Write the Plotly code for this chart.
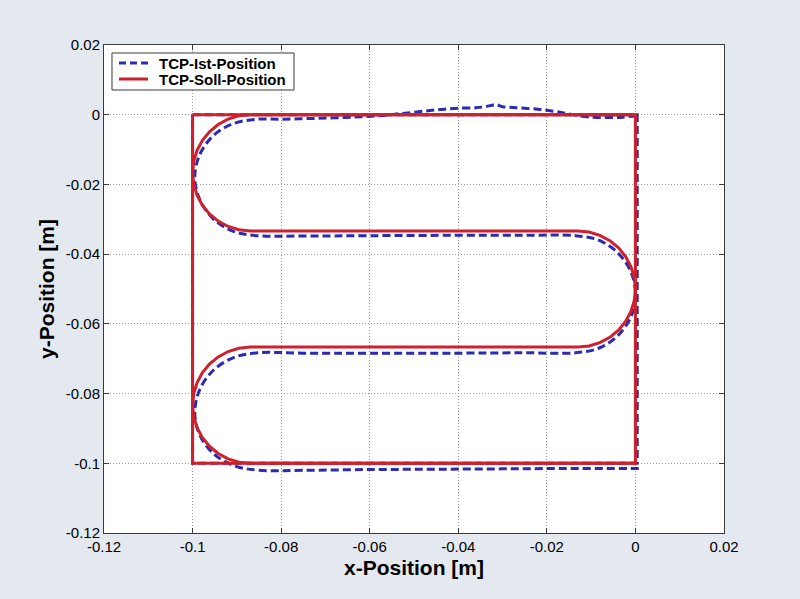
import plotly.graph_objects as go

# ---------------- data ----------------
# TCP-Soll-Position (commanded path): bounding square + serpentine path
soll_square_x = [-0.1, 0.0, 0.0, -0.1, -0.1]
soll_square_y = [0.0, 0.0, -0.1, -0.1, 0.0]

soll_top_x = [0.0]
soll_top_y = [0.0]

soll_turn1_x = [-0.087, -0.089536, -0.091975, -0.094222, -0.096192, -0.097809, -0.099010,
                -0.099750, -0.1, -0.099750, -0.099010, -0.097809, -0.096192, -0.094222,
                -0.091975, -0.089536, -0.087]
soll_turn1_y = [0.0, -0.000320, -0.001269, -0.002809, -0.004882, -0.007407, -0.010289,
                -0.013415, -0.016667, -0.019919, -0.023045, -0.025927, -0.028452, -0.030525,
                -0.032065, -0.033014, -0.033333]

soll_turn2_x = [-0.013, -0.010464, -0.008025, -0.005778, -0.003808, -0.002191, -0.000990,
                -0.000250, 0.0, -0.000250, -0.000990, -0.002191, -0.003808, -0.005778,
                -0.008025, -0.010464, -0.013]
soll_turn2_y = [-0.033333, -0.033653, -0.034602, -0.036142, -0.038215, -0.040740, -0.043622,
                -0.046748, -0.05, -0.053252, -0.056378, -0.059260, -0.061785, -0.063858,
                -0.065398, -0.066347, -0.066667]

soll_turn3_x = [-0.087, -0.089536, -0.091975, -0.094222, -0.096192, -0.097809, -0.099010,
                -0.099750, -0.1, -0.099750, -0.099010, -0.097809, -0.096192, -0.094222,
                -0.091975, -0.089536, -0.087]
soll_turn3_y = [-0.066667, -0.066987, -0.067936, -0.069476, -0.071549, -0.074074, -0.076956,
                -0.080082, -0.083333, -0.086585, -0.089711, -0.092593, -0.095118, -0.097191,
                -0.098731, -0.099680, -0.1]

soll_end_x = [0.0]
soll_end_y = [-0.1]

# TCP-Ist-Position (measured path)
ist_square_x = [-0.1, 0.0004, 0.0004, -0.1, -0.1]
ist_square_y = [0.0, 0.0, -0.1, -0.1, 0.0]

ist_top_x = [0.0003, -0.003, -0.007, -0.011, -0.014, -0.0165, -0.0186, -0.022, -0.0255,
             -0.0276, -0.030, -0.0315, -0.0328, -0.0345, -0.036, -0.0396, -0.043, -0.0464,
             -0.050, -0.0532, -0.057, -0.062, -0.068, -0.074, -0.080]
ist_top_y = [-0.0003, -0.0007, -0.0008, -0.0006, 0.0000, 0.0006, 0.0010, 0.0016, 0.0019,
             0.0021, 0.0023, 0.0029, 0.0026, 0.0022, 0.0020, 0.0019, 0.0016, 0.0012,
             0.0007, 0.0003, -0.0002, -0.0006, -0.0009, -0.0011, -0.0013]

ist_turn1_x = [-0.0855, -0.0909, -0.0954, -0.0984, -0.0995, -0.0984, -0.0954, -0.0909, -0.0855]
ist_turn1_y = [-0.0013, -0.0026, -0.0061, -0.0115, -0.0178, -0.0243, -0.0298, -0.0334, -0.0347]

ist_line1_x = [-0.075, -0.06, -0.04, -0.025, -0.0135]
ist_line1_y = [-0.0348, -0.0347, -0.0346, -0.0346, -0.0347]

ist_turn2_x = [-0.0083, -0.0040, -0.0010, 0.0000, -0.0010, -0.0040, -0.0083, -0.0135]
ist_turn2_y = [-0.0360, -0.0396, -0.0451, -0.0515, -0.0579, -0.0634, -0.0670, -0.0683]

ist_line2_x = [-0.025, -0.04, -0.06, -0.075, -0.0850]
ist_line2_y = [-0.0683, -0.0684, -0.0684, -0.0684, -0.0683]

ist_turn3_x = [-0.0906, -0.0953, -0.0984, -0.0995, -0.0984, -0.0953, -0.0906, -0.0850]
ist_turn3_y = [-0.0696, -0.0733, -0.0789, -0.0855, -0.0918, -0.0972, -0.1007, -0.1020]

ist_bottom_x = [-0.075, -0.06, -0.045, -0.03, -0.015, 0.0, 0.0015]
ist_bottom_y = [-0.1020, -0.1018, -0.1017, -0.1016, -0.1015, -0.1015, -0.1014]

x_ticks = [-0.12, -0.1, -0.08, -0.06, -0.04, -0.02, 0, 0.02]
x_tick_labels = ["-0.12", "-0.1", "-0.08", "-0.06", "-0.04", "-0.02", "0", "0.02"]
y_ticks = [-0.12, -0.1, -0.08, -0.06, -0.04, -0.02, 0, 0.02]
y_tick_labels = ["-0.12", "-0.1", "-0.08", "-0.06", "-0.04", "-0.02", "0", "0.02"]

series_names = ["TCP-Ist-Position", "TCP-Soll-Position"]

# ---------------- build ----------------
ist_x = (ist_top_x + ist_turn1_x + ist_line1_x + ist_turn2_x
         + ist_line2_x + ist_turn3_x + ist_bottom_x)
ist_y = (ist_top_y + ist_turn1_y + ist_line1_y + ist_turn2_y
         + ist_line2_y + ist_turn3_y + ist_bottom_y)
soll_x = soll_top_x + soll_turn1_x + soll_turn2_x + soll_turn3_x + soll_end_x
soll_y = soll_top_y + soll_turn1_y + soll_turn2_y + soll_turn3_y + soll_end_y

BLUE = "#2a2ab2"
RED = "#d0202c"
FONT = "Liberation Sans, Arial, sans-serif"
IST_LINE = dict(color=BLUE, width=3, dash="8px,4px")
SOLL_LINE = dict(color=RED, width=3)

fig = go.Figure()
fig.add_trace(go.Scatter(x=ist_square_x, y=ist_square_y, mode="lines", name=series_names[0],
                         legendgroup="ist", showlegend=False, line=IST_LINE))
fig.add_trace(go.Scatter(x=ist_x, y=ist_y, mode="lines", name=series_names[0],
                         legendgroup="ist", line=dict(IST_LINE, shape="spline", smoothing=1.0)))
fig.add_trace(go.Scatter(x=soll_square_x, y=soll_square_y, mode="lines", name=series_names[1],
                         legendgroup="soll", showlegend=False, line=SOLL_LINE))
fig.add_trace(go.Scatter(x=soll_x, y=soll_y, mode="lines", name=series_names[1],
                         legendgroup="soll", line=SOLL_LINE))

axis_common = dict(
    showline=True, linecolor="#3a3a3a", linewidth=1, mirror="ticks",
    ticks="inside", ticklen=5, tickcolor="#3a3a3a", tickwidth=1,
    showgrid=True, gridcolor="#9a9a9a", gridwidth=1, griddash="1px,2px",
    zeroline=False,
    tickfont=dict(family=FONT, size=15, color="black"),
)

fig.update_xaxes(range=[-0.12, 0.02], tickvals=x_ticks, ticktext=x_tick_labels,
                 title=dict(text="x-Position [m]", standoff=6,
                            font=dict(family=FONT, size=21, color="black", weight="bold")),
                 **axis_common)
fig.update_yaxes(range=[-0.12, 0.02], tickvals=y_ticks, ticktext=y_tick_labels,
                 title=dict(text="y-Position [m]", standoff=5,
                            font=dict(family=FONT, size=21, color="black", weight="bold")),
                 **axis_common)

# compact legend box drawn to match the original's tight MATLAB legend
legend_shapes = [
    dict(type="rect", xref="x domain", yref="y domain", x0=0.0129, x1=0.3065,
         y0=0.9078, y1=0.9836, line=dict(color="#3a3a3a", width=1), fillcolor="white",
         layer="above"),
    dict(type="line", xref="x domain", yref="y domain", x0=0.0242, x1=0.0710,
         y0=0.9631, y1=0.9631, line=dict(color=BLUE, width=3, dash="7px,4px"), layer="above"),
    dict(type="line", xref="x domain", yref="y domain", x0=0.0242, x1=0.0710,
         y0=0.9303, y1=0.9303, line=dict(color=RED, width=3), layer="above"),
]
legend_texts = [
    dict(xref="x domain", yref="y domain", x=0.0855, y=0.9631, text=series_names[0],
         showarrow=False, xanchor="left", yanchor="middle",
         font=dict(family=FONT, size=15, color="black", weight="bold")),
    dict(xref="x domain", yref="y domain", x=0.0855, y=0.9303, text=series_names[1],
         showarrow=False, xanchor="left", yanchor="middle",
         font=dict(family=FONT, size=15, color="black", weight="bold")),
]

fig.update_layout(
    width=800, height=599,
    margin=dict(l=104, r=76, t=45, b=66),
    paper_bgcolor="#e4e9f0",
    plot_bgcolor="white",
    showlegend=False,
    shapes=legend_shapes,
    annotations=legend_texts,
)

fig.write_html("out.html")
